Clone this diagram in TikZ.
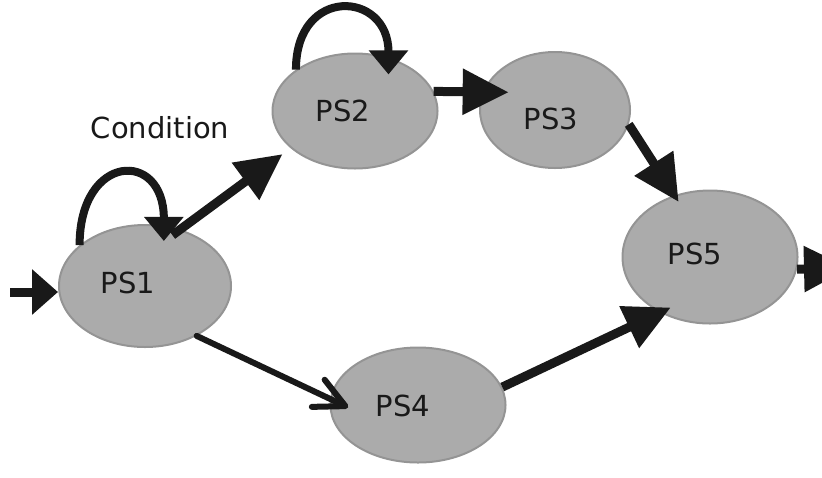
\documentclass[tikz,border=0pt]{standalone}
\usepackage{fontspec}
\setmainfont{DejaVu Sans}
\usetikzlibrary{arrows.meta,shapes.geometric}
\begin{document}
\begin{tikzpicture}[x=0.5pt,y=-0.5pt,
	state/.style={ellipse, fill=black!33, draw=black!42, line width=1pt, inner sep=0pt},
	tag/.style={font=\fontsize{14.5}{16}\selectfont, text=black!90, inner sep=0pt},
	flow/.style={line width=4.5pt, draw=black!90, -{Triangle[length=23pt,width=22pt]}},
	selfloop/.style={line width=4pt, draw=black!90, -{Triangle[length=12pt,width=19pt]}},
	thinflow/.style={line width=3pt, draw=black!90, line cap=round, -{Straight Barb[length=15pt,width=15pt,round]}}]
	\useasboundingbox (0,0) rectangle (822,477);
	\node[state, minimum width=86pt, minimum height=61pt] (ps1) at (145,286) {};
	\node[state, minimum width=82.5pt, minimum height=57.5pt] (ps2) at (355,111) {};
	\node[state, minimum width=75pt, minimum height=58pt] (ps3) at (555,110) {};
	\node[state, minimum width=87.5pt, minimum height=57.5pt] (ps4) at (418,405) {};
	\node[state, minimum width=87.5pt, minimum height=66.5pt] (ps5) at (710,257) {};
	\node[tag] (t1) at (128,283) {PS1};
	\node[tag] (t2) at (343,111) {PS2};
	\node[tag] (t3) at (551,119) {PS3};
	\node[tag] (t4) at (403,406) {PS4};
	\node[tag] (t5) at (695,254) {PS5};
	\node[tag] (cond) at (160,128) {Condition};
	\coordinate (in) at (10,292);
	\coordinate (out) at (850,268);
	\draw[flow, -{Triangle[length=13pt,width=22pt]}] (in) -- (ps1.west |- in);
	\draw[selfloop] (ps1.148) .. controls +(0,-92) and +(0,-92) .. ([shift={(-3,15)}]ps1.70);
	\draw[selfloop] (ps2.145) .. controls +(0,-84) and +(0,-84) .. ([shift={(0,17)}]ps2.58);
	\draw[flow, shorten >=5pt] ([shift={(0,8)}]ps1.65) -- (ps2.210);
	\draw[flow, shorten >=-13pt] (ps2.14) -- (ps3.166);
	\draw[flow, shorten >=-4pt] (ps3.-11) -- (ps5.120);
	\draw[thinflow, shorten >=-10pt] (ps1.-44) -- (ps4.176);
	\draw[flow, shorten >=-6pt] (ps4.12) -- (ps5.228);
	\draw[flow] (ps5.352) -- (out);
\end{tikzpicture}
\end{document}
